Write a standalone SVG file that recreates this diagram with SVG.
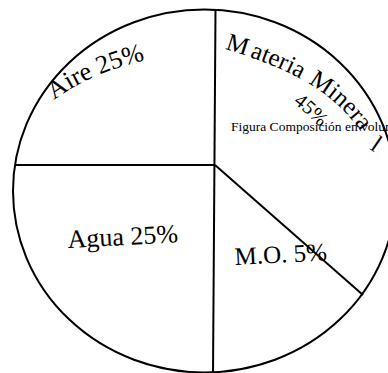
<svg xmlns="http://www.w3.org/2000/svg" width="388" height="373" viewBox="0 0 388 373">
<style>
.ln{fill:none;stroke:#000;stroke-width:2}
.t{font-family:"Liberation Serif","Times New Roman",serif;fill:#000}
</style>
<defs>
<path id="pAire" d="M 54 100 Q 93 71 158 57"/>
<path id="pMat" d="M 222 48 C 280 66, 350 90, 378 165"/>
<path id="p45" d="M 293 103 Q 311 116 329 138"/>
</defs>
<rect width="388" height="373" fill="#fff"/>
<g id="connectors">
<ellipse class="ln" cx="204.5" cy="191" rx="191.5" ry="181.5"/>
<line class="ln" x1="215.5" y1="10" x2="213" y2="373"/>
<line class="ln" x1="15" y1="165" x2="215" y2="165"/>
<line class="ln" x1="215" y1="165" x2="363" y2="295"/>
</g>
<g id="aire"><text class="t" font-size="26"><textPath href="#pAire">Aire 25%</textPath></text></g>
<g id="materia"><text class="t" font-size="25"><textPath href="#pMat" startOffset="3">M</textPath><textPath href="#pMat" startOffset="29">ateria</textPath><textPath href="#pMat" startOffset="93">Minera</textPath><textPath href="#pMat" startOffset="184"><tspan rotate="-30">l</tspan></textPath></text></g>
<g id="pct45"><text class="t" font-size="20"><textPath href="#p45">45%</textPath></text></g>
<g id="caption"><text class="t" x="231" y="131" font-size="13.5">Figura Composición en volumen</text></g>
<g id="agua"><text class="t" x="68" y="248" font-size="26" transform="rotate(-3 68 248)">Agua 25%</text></g>
<g id="mo"><text class="t" x="235" y="265" font-size="25" transform="rotate(-3 235 265)">M.O. 5%</text></g>
</svg>
